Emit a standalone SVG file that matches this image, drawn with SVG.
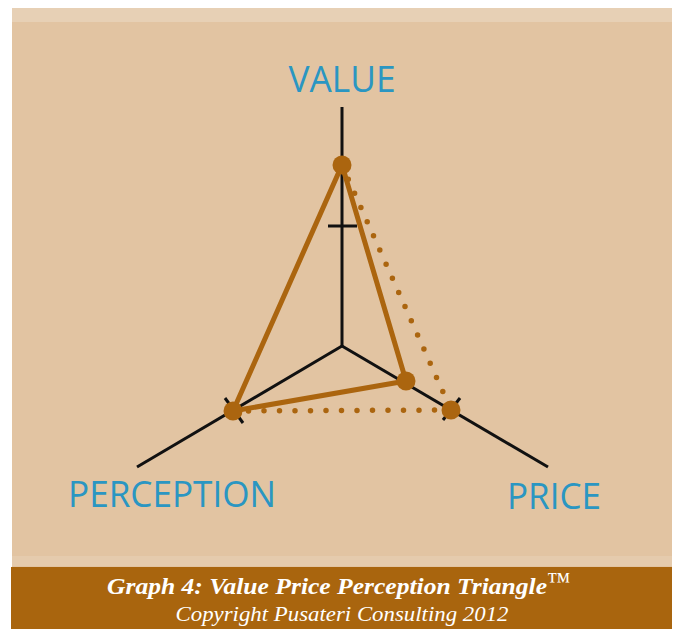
<svg xmlns="http://www.w3.org/2000/svg" width="677" height="629" viewBox="0 0 677 629">
<style>
.axis{stroke:#111;stroke-width:3;fill:none}
.edge{stroke:#ab650f;stroke-width:5;fill:none;stroke-linecap:round}
.dot{stroke:#ab650f;stroke-width:5.5;fill:none;stroke-linecap:round;stroke-dasharray:0 15.5}
.pt{fill:#ab650f}
.lbl{font-family:"Open Sans","Noto Sans",sans-serif;font-size:36px;fill:#2a96c2}
.cap{font-family:"Liberation Serif",serif;font-style:italic;fill:#fff}
</style>
<rect x="0" y="0" width="677" height="629" fill="#fff"/>
<rect x="12" y="8" width="660" height="560" fill="#e2c4a2"/>
<rect x="12" y="8" width="660" height="14" fill="#e7d0b5"/>
<rect x="12" y="556" width="660" height="10" fill="#e5cbad"/>
<rect x="11" y="567" width="661" height="62" fill="#a9650e"/>
<g id="axes">
<line class="axis" x1="342" y1="346" x2="342" y2="107"/>
<line class="axis" x1="342" y1="346" x2="137" y2="467"/>
<line class="axis" x1="342" y1="346" x2="548" y2="467"/>
<line class="axis" x1="328" y1="226" x2="357" y2="226"/>
<line class="axis" x1="225" y1="398" x2="243" y2="423"/>
<line class="axis" x1="460" y1="398" x2="443" y2="420"/>
</g>
<g id="connectors">
<line class="edge" x1="342" y1="165" x2="233" y2="411"/>
<line class="edge" x1="342" y1="165" x2="406" y2="381"/>
<line class="edge" x1="233" y1="411" x2="406" y2="381"/>
<line class="dot" x1="342" y1="165" x2="451" y2="410"/>
<line class="dot" x1="233" y1="411" x2="451" y2="410"/>
</g>
<g id="node-value"><circle class="pt" cx="342" cy="165" r="9.5"/><text class="lbl" x="342" y="92" text-anchor="middle" textLength="107" lengthAdjust="spacingAndGlyphs">VALUE</text></g>
<g id="node-perception"><circle class="pt" cx="233" cy="411" r="9.5"/><text class="lbl" x="68" y="507" textLength="208" lengthAdjust="spacingAndGlyphs">PERCEPTION</text></g>
<g id="node-price"><circle class="pt" cx="406" cy="381" r="9.5"/><text class="lbl" x="507" y="509" textLength="94" lengthAdjust="spacingAndGlyphs">PRICE</text></g>
<g id="node-price2"><circle class="pt" cx="451" cy="410" r="9.5"/></g>
<g id="caption">
<text class="cap" x="107" y="594" font-size="23" font-weight="bold"><tspan textLength="440" lengthAdjust="spacingAndGlyphs">Graph 4: Value Price Perception Triangle</tspan><tspan font-size="24" font-weight="normal" font-style="normal" dy="-5">™</tspan></text>
<text class="cap" x="342" y="621" text-anchor="middle" font-size="21" textLength="333" lengthAdjust="spacingAndGlyphs">Copyright Pusateri Consulting 2012</text>
</g>
</svg>
